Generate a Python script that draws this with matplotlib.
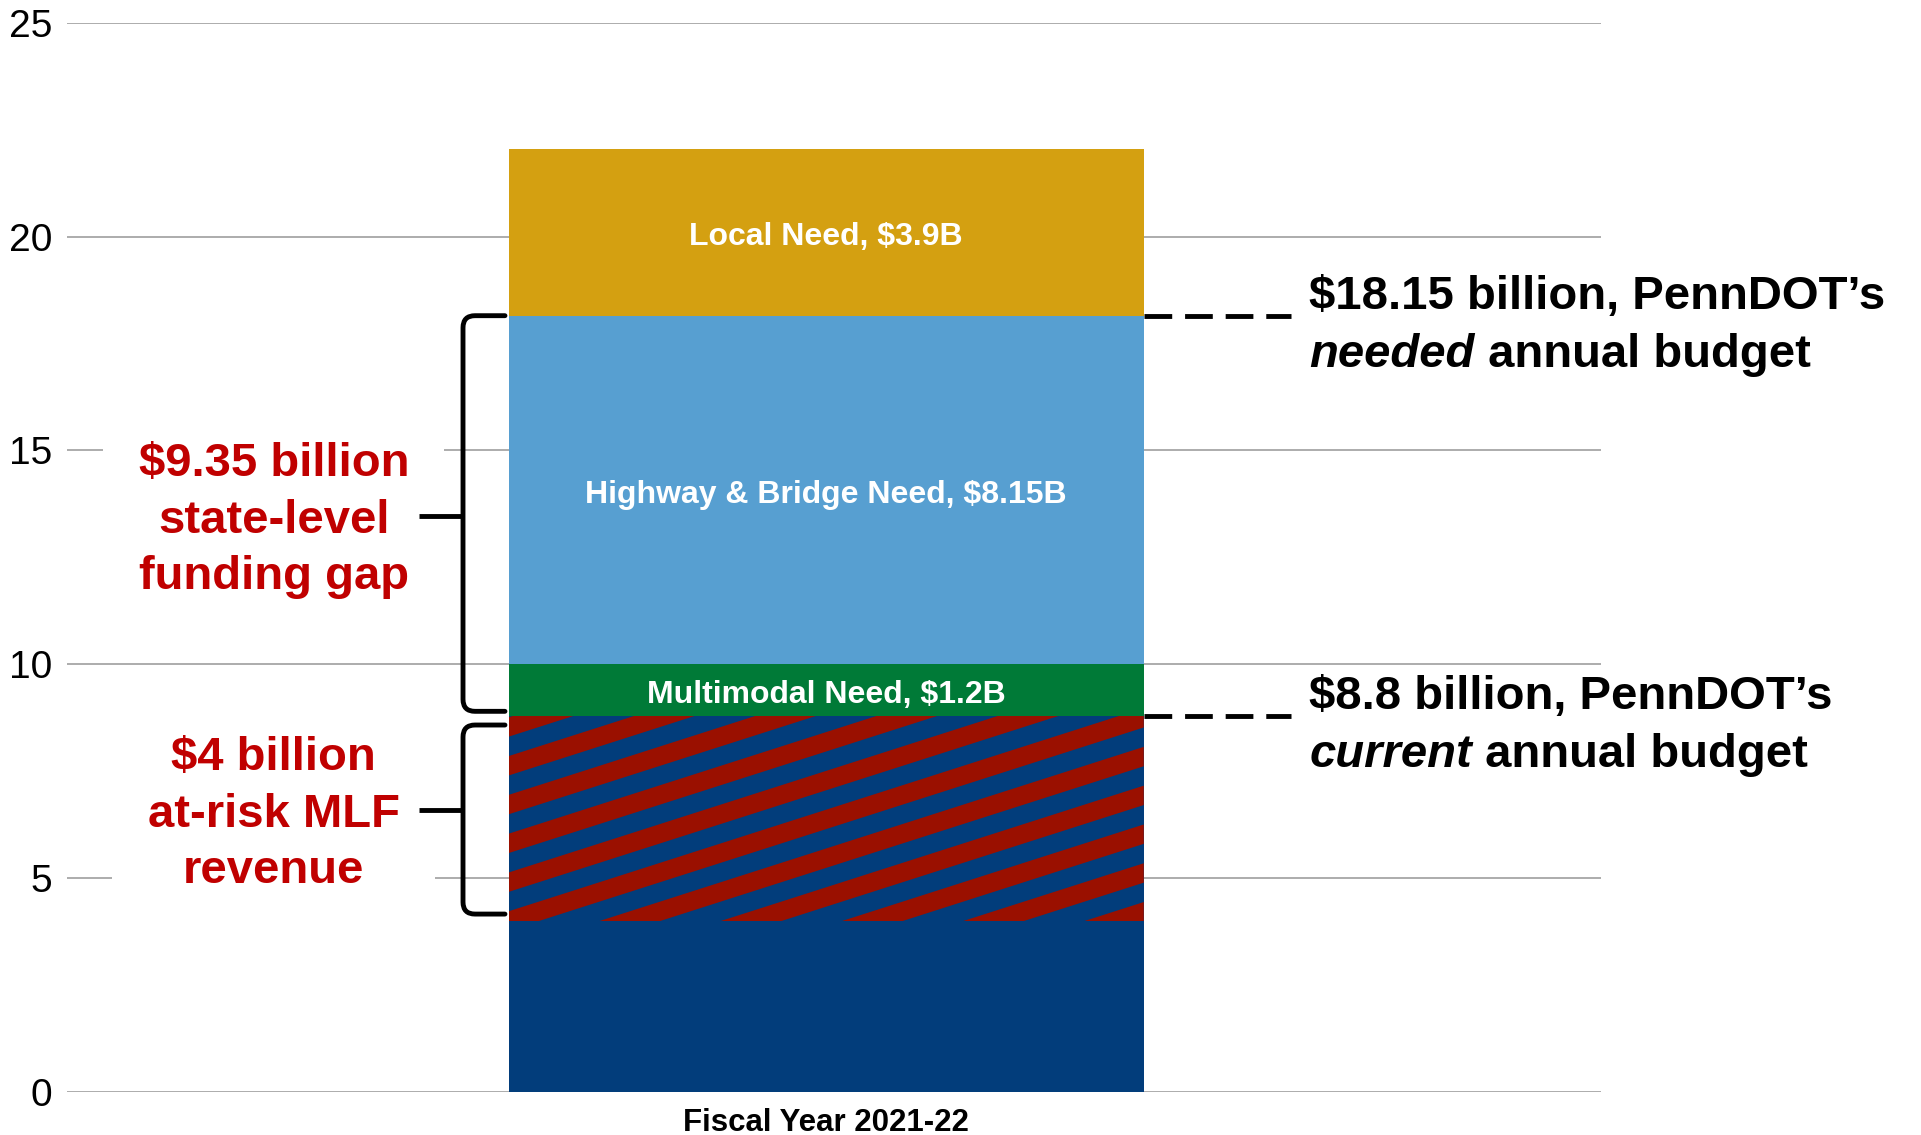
import matplotlib.pyplot as plt
from matplotlib.patches import Polygon, PathPatch
from matplotlib.path import Path
import numpy as np

plt.rcParams['font.family'] = ['Liberation Sans', 'DejaVu Sans']

# $ billions, stacked from the bottom
category = 'Fiscal Year 2021-22'
segment_names = ['Secure revenue', 'At-risk MLF revenue', 'Multimodal Need', 'Highway & Bridge Need', 'Local Need']
segment_values = [4.0, 4.8, 1.2, 8.15, 3.9]
segment_colors = ['#023D7B', '#023D7B', '#007A37', '#579FD1', '#D4A011']
segment_labels = ['', '', 'Multimodal Need, $1.2B', 'Highway & Bridge Need, $8.15B', 'Local Need, $3.9B']

current_budget = 8.8
needed_budget = 18.15
gap_label = '$9.35 billion\nstate-level\nfunding gap'
risk_label = '$4 billion\nat-risk MLF\nrevenue'
needed_line1 = '$18.15 billion, PennDOT\u2019s'
needed_word = 'needed'
current_line1 = '$8.8 billion, PennDOT\u2019s'
current_word = 'current'

red_text = '#C00000'
stripe_red = '#9A1000'

fig = plt.figure(figsize=(19.21, 11.35), dpi=100)
ax = fig.add_axes([66.7 / 1921, 43 / 1135, 1534.3 / 1921, 1069.3 / 1135])
ax.set_xlim(-0.99, 1.01)
ax.set_ylim(0, 25)

for s in ax.spines.values():
    s.set_visible(False)
ax.set_yticks(range(0, 26, 5))
ax.tick_params(axis='y', length=0, labelsize=28, pad=10.5)
ax.yaxis.grid(True, color='#A6A6A6', linewidth=1.3)
ax.set_axisbelow(True)
ax.set_xticks([0])
ax.set_xticklabels([category], fontsize=22.5, fontweight='bold')
ax.tick_params(axis='x', length=0, pad=11.5)

# stacked bar
bar_w = 0.828
bottoms = np.concatenate(([0], np.cumsum(segment_values)[:-1]))
bars = ax.bar(0, segment_values, width=bar_w, bottom=bottoms, color=segment_colors,
              linewidth=0, zorder=2)

px_x = ax.transData.transform((1, 0))[0] - ax.transData.transform((0, 0))[0]
px_y = ax.transData.transform((0, 1))[1] - ax.transData.transform((0, 0))[1]

for b, lab, v, bt in zip(bars, segment_labels, segment_values, bottoms):
    if lab:
        ax.text(0, bt + v / 2 - 5 / px_y, lab, ha='center', va='center', color='white',
                fontsize=23, fontweight='bold', zorder=4)

# diagonal red stripes over the at-risk part
risk_bar = bars[1]
xl = risk_bar.get_x()
xr = xl + risk_bar.get_width()
yb = risk_bar.get_y()
h = risk_bar.get_height()
slope = 0.32 * px_x / px_y          # data units of y per unit of x
period = 38.8 / px_y
phase = 29 / px_y
span = slope * (xr - xl)
c = phase - np.ceil((span + phase) / period) * period
while c < h:
    poly = Polygon([(xl, yb + c), (xr, yb + c + span),
                    (xr, yb + c + span + period / 2), (xl, yb + c + period / 2)],
                   closed=True, facecolor=stripe_red, edgecolor='none', zorder=3)
    ax.add_patch(poly)
    poly.set_clip_path(risk_bar)
    c += period


def bracket(y_top, y_bot, y_tick):
    x_v, x_end, x_tick = -0.4734, -0.4187, -0.5308
    rx, ry = 12 / px_x, 12 / px_y
    verts = [(x_end, y_top), (x_v + rx, y_top), (x_v, y_top), (x_v, y_top - ry),
             (x_v, y_bot + ry), (x_v, y_bot), (x_v + rx, y_bot), (x_end, y_bot)]
    codes = [Path.MOVETO, Path.LINETO, Path.CURVE3, Path.CURVE3,
             Path.LINETO, Path.CURVE3, Path.CURVE3, Path.LINETO]
    ax.add_patch(PathPatch(Path(verts, codes), facecolor='none', edgecolor='black',
                           lw=3.5, capstyle='round', joinstyle='round', clip_on=False, zorder=5))
    ax.plot([x_tick, x_v], [y_tick, y_tick], color='black', lw=3.5, solid_capstyle='butt',
            clip_on=False, zorder=5)


gap_mid = (needed_budget + current_budget) / 2
risk_mid = (current_budget + segment_values[0]) / 2 + 0.2
bracket(needed_budget, current_budget + 0.1, gap_mid)
bracket(current_budget - 0.22, segment_values[0] + 0.16, risk_mid)

box = dict(boxstyle='square,pad=0.75', facecolor='white', edgecolor='none')
text_drop = 5 / px_y
ax.text(-0.72, gap_mid - text_drop, gap_label, ha='center', va='center', ma='center',
        color=red_text, fontsize=34, fontweight='bold', linespacing=1.37, bbox=box, zorder=4)
ax.text(-0.72, risk_mid - text_drop, risk_label, ha='center', va='center', ma='center',
        color=red_text, fontsize=34, fontweight='bold', linespacing=1.37, bbox=box, zorder=4)

# budget levels on the right
x_text = 0.63
for level, line1, word in [(needed_budget, needed_line1, needed_word),
                           (current_budget, current_line1, current_word)]:
    ax.plot([xr, 0.606], [level, level], color='black', lw=3.5,
            linestyle=(0, (5.7, 2.65)), clip_on=False, zorder=5)
    ax.annotate(line1, xy=(x_text, level), xytext=(0, 13.5), textcoords='offset points',
                ha='left', va='center', fontsize=34, fontweight='bold')
    t2 = ax.annotate(word, xy=(x_text, level), xytext=(0, -28.5), textcoords='offset points',
                     ha='left', va='center', fontsize=34, fontweight='bold', fontstyle='italic')
    ax.annotate(' annual budget', xy=(1, 0), xycoords=t2, ha='left', va='bottom',
                fontsize=34, fontweight='bold')

fig.savefig('out.png', dpi=100)
